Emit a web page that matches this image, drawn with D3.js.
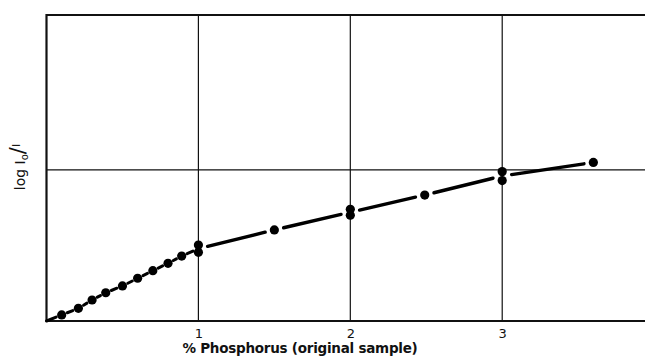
<!DOCTYPE html>
<html>
<head>
<meta charset="utf-8">
<script src="https://cdn.jsdelivr.net/npm/d3@7"></script>
<style>
  html, body { margin: 0; padding: 0; background: #fff; }
  svg { display: block; }
  text { font-family: "DejaVu Sans", sans-serif; fill: #111; }
</style>
</head>
<body>
<svg id="chart" width="645" height="361"></svg>
<script>
// % phosphorus in the original sample and measured absorbance (log I0/I, relative units)
const phosphorus = [0.10, 0.21, 0.30, 0.39, 0.50, 0.60, 0.70, 0.80, 0.89, 1.00, 1.00, 1.50, 2.00, 2.00, 2.49, 3.00, 3.00, 3.60];
const absorbance = [0.040, 0.084, 0.139, 0.187, 0.232, 0.283, 0.333, 0.382, 0.430, 0.503, 0.455, 0.603, 0.740, 0.700, 0.834, 0.989, 0.930, 1.050];
// Calibration curve nodes (mean of replicate readings); dotted below 1 %, dashed above
const curveX = [0, 0.10, 0.21, 0.30, 0.39, 0.50, 0.60, 0.70, 0.80, 0.89, 1.00, 1.50, 2.00, 2.49, 3.00, 3.60];
const curveY = [0, 0.040, 0.084, 0.139, 0.187, 0.232, 0.283, 0.333, 0.382, 0.430, 0.479, 0.603, 0.720, 0.834, 0.960, 1.050];
const xTicks = [1, 2, 3];
const yGrid = [1];

const svg = d3.select("#chart");
const mLeft = 46.5, mTop = 15, mBottom = 321, mRight = 645;

const x = d3.scaleLinear().domain([0, 3.94]).range([mLeft, mRight]);
const y = d3.scaleLinear().domain([0, 2.026]).range([mBottom, mTop]);

// grid
svg.append("g").selectAll("line").data(xTicks).join("line")
  .attr("x1", d => x(d)).attr("x2", d => x(d))
  .attr("y1", mTop).attr("y2", mBottom)
  .attr("stroke", "#111").attr("stroke-width", 1.2);
svg.append("g").selectAll("line").data(yGrid).join("line")
  .attr("x1", mLeft).attr("x2", mRight)
  .attr("y1", d => y(d)).attr("y2", d => y(d))
  .attr("stroke", "#111").attr("stroke-width", 1.2);

// frame: left, top and bottom edges
svg.append("line").attr("x1", mLeft).attr("x2", mRight).attr("y1", mTop).attr("y2", mTop)
  .attr("stroke", "#111").attr("stroke-width", 1.8);
svg.append("line").attr("x1", mLeft).attr("x2", mRight).attr("y1", mBottom).attr("y2", mBottom)
  .attr("stroke", "#111").attr("stroke-width", 2);
svg.append("line").attr("x1", mLeft).attr("x2", mLeft).attr("y1", mTop - 0.9).attr("y2", mBottom + 1)
  .attr("stroke", "#111").attr("stroke-width", 2.2);

// x axis tick labels
const xAxis = d3.axisBottom(x).tickValues(xTicks).tickSize(0).tickPadding(8)
  .tickFormat(d3.format("d"));
const gx = svg.append("g").attr("transform", `translate(0,${mBottom})`).call(xAxis);
gx.select(".domain").remove();
gx.selectAll("text").attr("font-size", 13).attr("font-family", "DejaVu Sans, sans-serif").attr("fill", "#111");

// curve: each segment drawn between consecutive nodes, stopping short of the dots
const R = 4.6;
const segs = [];
for (let i = 0; i < curveX.length - 1; i++) {
  const x0 = x(curveX[i]), y0 = y(curveY[i]);
  const x1 = x(curveX[i + 1]), y1 = y(curveY[i + 1]);
  const len = Math.hypot(x1 - x0, y1 - y0);
  const ux = (x1 - x0) / len, uy = (y1 - y0) / len;
  const dotted = curveX[i + 1] <= 1.0;
  const g0 = i === 0 ? 0 : (dotted ? 6 : 9.5);
  const g1 = dotted ? 6 : 9.5;
  segs.push({ x0: x0 + ux * g0, y0: y0 + uy * g0, x1: x1 - ux * g1, y1: y1 - uy * g1, dotted });
}
svg.append("g").selectAll("line").data(segs).join("line")
  .attr("x1", d => d.x0).attr("y1", d => d.y0)
  .attr("x2", d => d.x1).attr("y2", d => d.y1)
  .attr("stroke", "#000").attr("stroke-width", d => d.dotted ? 3 : 3.4)
  .attr("stroke-linecap", "round");

// data points
svg.append("g").selectAll("circle").data(phosphorus).join("circle")
  .attr("cx", (d) => x(d)).attr("cy", (d, i) => y(absorbance[i]))
  .attr("r", R).attr("fill", "#000");

// axis titles
svg.append("text").attr("x", 300).attr("y", 353).attr("text-anchor", "middle")
  .attr("font-size", 13.5).attr("font-weight", "bold").attr("letter-spacing", "-0.25")
  .text("% Phosphorus (original sample)");

const yl = svg.append("text").attr("transform", "translate(25,167) rotate(-90)")
  .attr("text-anchor", "middle").attr("font-size", 14);
yl.append("tspan").text("log I");
yl.append("tspan").attr("font-size", 10).attr("dy", 3).text("o");
yl.append("tspan").attr("font-size", 21).attr("dy", -3).text("/");
yl.append("tspan").attr("font-size", 11).attr("dy", -5).text("I");
</script>
</body>
</html>
